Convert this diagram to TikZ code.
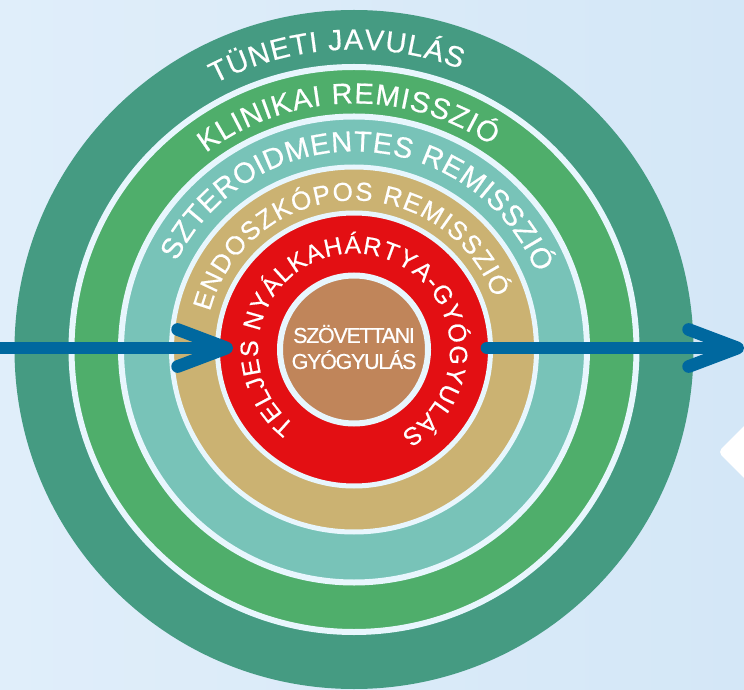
\documentclass[tikz,border=0pt]{standalone}
\usepackage{fontspec}
\setmainfont{Liberation Sans}
\usetikzlibrary{arrows.meta,decorations.text}
\newfontfamily\ringfont[FakeBold=0.5]{Liberation Sans}
\newfontfamily\corefont[LetterSpace=-6,FakeBold=0.5]{Liberation Sans}
\definecolor{bgleft}{HTML}{E0EEFA}
\definecolor{bgright}{HTML}{D4E7F7}
\definecolor{halo}{HTML}{E8F6FD}
\definecolor{darkgreen}{HTML}{459B82}
\definecolor{midgreen}{HTML}{4FAE6B}
\definecolor{teal}{HTML}{78C3B8}
\definecolor{tan}{HTML}{CBB272}
\definecolor{redcore}{HTML}{E30F13}
\definecolor{browncore}{HTML}{C0855A}
\definecolor{arrowblue}{HTML}{00689F}
\tikzset{
  ring/.style={circle,inner sep=0pt,outer sep=0pt,draw=halo},
  bluearrow/.style={draw=arrowblue,line width=12.7pt,line cap=round,
    -{Straight Barb[round,length=49pt,width=37pt,line width=12.7pt]}},
}
% radius, centre angle, half span, tracking, size, text
\newcommand{\ringlabel}[6]{%
  \path[decorate,decoration={text along path,text align=center,
     text={|\color{white}\ringfont\fontsize{#5}{#5}\selectfont\kern#4pt|#6}}]
     (c) ++({#2+#3}:#1) arc[start angle={#2+#3},end angle={#2-#3},radius=#1];}
\begin{document}
\begin{tikzpicture}[x=1pt,y=1pt]
\useasboundingbox (0,0) rectangle (744,689);
\clip (0,0) rectangle (744,689);
\shade[left color=bgleft,right color=bgright] (0,0) rectangle (744,689);
\fill[white,rounded corners=5pt] (770,289) -- (718,237) -- (770,185) -- cycle;
\coordinate (c) at (354,339.5);
\node[circle,inner sep=0pt,outer sep=0pt,fill=darkgreen,minimum size=679pt] (tuneti) at (c) {};
\node[ring,line width=6pt,fill=midgreen,minimum size=565pt] (klinikai) at (c) {};
\node[ring,line width=6pt,fill=teal,minimum size=466pt] (szteroid) at (c) {};
\node[ring,line width=5pt,fill=tan,minimum size=365pt] (endoszkopos) at (c) {};
\node[ring,line width=5pt,fill=redcore,minimum size=273pt] (nyalka) at (c) {};
\node[ring,line width=6pt,fill=browncore,minimum size=148pt] (szovet) at (c) {};
\node[align=center,text=white,inner sep=0pt,font=\corefont\fontsize{21.5}{26}\selectfont]
  (szovetlabel) at (354,342) {SZÖVETTANI\\GYÓGYULÁS};
\ringlabel{300}{93.5}{50}{0.9}{29}{TÜNETI JAVULÁS}
\ringlabel{246}{91.6}{62}{1.05}{29}{KLINIKAI REMISSZIÓ}
\ringlabel{198}{88.3}{85}{0.75}{29}{SZTEROIDMENTES REMISSZIÓ}
\ringlabel{149}{93}{100}{1.3}{26}{ENDOSZKÓPOS REMISSZIÓ}
\ringlabel{96}{86}{172}{0.95}{25}{TELJES NYÁLKAHÁRTYA-GYÓGYULÁS}
\coordinate (in) at (-10,341);
\coordinate (intip) at (233,341);
\coordinate (outstart) at (487,341);
\coordinate (outtip) at (744,341);
\draw[bluearrow] (in) -- (intip);
\draw[bluearrow] (outstart) -- (outtip);
\end{tikzpicture}
\end{document}
